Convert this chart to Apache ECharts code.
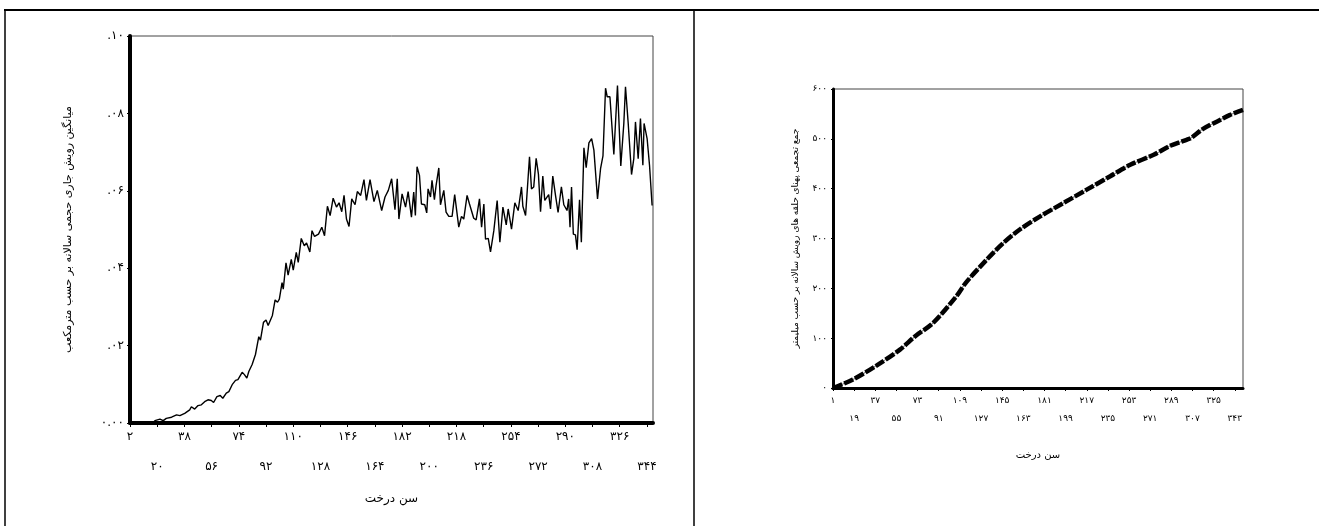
<!DOCTYPE html>
<html>
<head>
<meta charset="utf-8">
<script src="https://cdn.jsdelivr.net/npm/echarts@6/dist/echarts.min.js"></script>
<style>
html,body{margin:0;padding:0;background:#fff;}
#c{width:1319px;height:526px;}
</style>
</head>
<body>
<div id="c"></div>
<script>
// ---- Data ----
// Left chart: mean current annual volume increment (m3) by tree age
const leftSeries = [
[2,0],[10,0],[17,0],
[18.5,0.0006],[21.8,0.001],[24,0.0006],[26,0.0012],[29.5,0.0015],[32.8,0.0021],[35,0.0019],[38.2,0.0025],[41.5,0.0034],[42.6,0.0042],[44.8,0.0036],[47,0.0045],[49.2,0.0047],[51.4,0.0055],[53.6,0.006],[55.8,0.0058],[57.3,0.0053],[59.5,0.0068],[61.7,0.0071],[63.4,0.0064],[65.7,0.0077],[67.4,0.0081],[69.6,0.0099],[71.8,0.011],[73.4,0.0112],[76.2,0.0131],[77.7,0.0125],[79.3,0.0116],[80.6,0.0133],[82.8,0.0151],[85,0.0177],[87.2,0.0223],[88.3,0.0214],
[90.3,0.026],[92,0.0266],[93.4,0.0252],[96.2,0.0278],[98,0.0318],[99.6,0.0312],[100.8,0.032],[102.6,0.0363],[103.4,0.0346],[105.2,0.0414],[106.6,0.0382],[108.7,0.0423],[110,0.0395],[112,0.0441],[113.3,0.0415],[115.3,0.0477],[117.3,0.0458],[118.8,0.0465],[121,0.0442],[122.4,0.0497],[124.1,0.0482],[126.7,0.0488],[128.9,0.0506],[130.7,0.0484],[132.6,0.056],[134.4,0.0536],[136.4,0.0581],[138.6,0.0558],[140.3,0.0569],[142.1,0.0546],[143.6,0.0588],[145.2,0.0527],[146.9,0.0508],[148.7,0.0579],[150.9,0.0564],[152.4,0.0598],[154.6,0.0588],[156.8,0.0629],[158.4,0.0575],[160.8,0.0629],[163.4,0.0572],[165.6,0.0601],[168.5,0.0549],[170.7,0.0584],[172.9,0.0601],[175.1,0.0631],[177.3,0.0551],[178.8,0.0631],[179.9,0.0527],
[182,0.0592],[184.3,0.0558],[186,0.0598],[188.2,0.0532],[189.7,0.0597],[190.8,0.0536],[191.9,0.0662],[193.5,0.064],[194.8,0.0566],[197,0.0564],[198.3,0.0543],[199.2,0.0605],[200.8,0.0584],[201.8,0.0627],[203.4,0.0577],[204.5,0.0614],[206.3,0.0659],[207.4,0.0564],[209.6,0.0601],[211.1,0.0545],[212.9,0.0534],[215.1,0.0534],[216.8,0.059],[219.5,0.0506],[221.3,0.0534],[222.8,0.0527],[225,0.0588],[226.6,0.0566],[229.4,0.0529],[231,0.0525],[233.2,0.0579],[234.6,0.0506],[236.1,0.0566],[237.2,0.0475],[239,0.0477],[240.5,0.0442],[242.7,0.0497],[244.9,0.0575],[246.7,0.0467],[248.7,0.0558],[250.9,0.0512],[252.2,0.0553],[254.4,0.0501],[256.6,0.0569],[258.8,0.0549],
[261,0.061],[261.9,0.056],[263.7,0.0536],[266.3,0.0688],[267.6,0.0605],[269.1,0.061],[270.7,0.0684],[272.2,0.0643],[273.6,0.0546],[275.1,0.0638],[276.4,0.0575],[279,0.059],[280.2,0.0553],[281.7,0.0638],[283.5,0.0588],[285.2,0.0544],[287.4,0.061],[289,0.0564],[291.1,0.0549],[292.2,0.0579],[293.1,0.0506],[294.1,0.061],[295.3,0.0488],[296.7,0.0486],[297.8,0.0448],[299.4,0.0577],[300.6,0.0467],[302.3,0.0711],[303.8,0.066],[305.6,0.0724],[307.4,0.0735],[308.9,0.0705],[311.3,0.0579],[313.3,0.0657],[314.9,0.069],[316.6,0.0865],[317.7,0.0843],[319.5,0.0843],[322.1,0.0694],[324.5,0.0872],[326.7,0.0664],[328.7,0.0774],[329.8,0.0869],[331.6,0.0774],[333.8,0.0642],[335.3,0.0683],[336.4,0.0778],[338.2,0.0683],[339.7,0.0787],[341.3,0.0666],[342.1,0.0774],[344.1,0.0735],[345.7,0.0666],[347.4,0.0562]
];
// Right chart: cumulative ring width (mm) by tree age
const rightSeries = [
[1,0],[18,17],[38,45],[58,77],[71,104],[86,130],[106,184],[114,211],[132,258],[146,291],[160,318],[177,344],[197,371],[217,398],[237,425],[254,448],[274,468],[288,486],[302,498],[306,502],[316,520],[328,535],[339,548],[350,558]
];
// Tick values / labels
const leftXTicks = [2,20,38,56,74,92,110,128,146,164,182,200,218,236,254,272,290,308,326,344];
const leftYLabels = ['۰.۰۰','.۰۲','.۰۴','.۰۶','.۰۸','.۱۰'];
const rightXTicks = [1,19,37,55,73,91,109,127,145,163,181,199,217,235,253,271,289,307,325,343];
const rightYLabels = ['۰','۱۰۰','۲۰۰','۳۰۰','۴۰۰','۵۰۰','۶۰۰'];
const leftXTitle = 'سن درخت';
const leftYTitle = 'میانگین رویش جاری حجمی سالانه بر حسب مترمکعب';
const rightXTitle = 'سن درخت';
const rightYTitle = 'جمع تجمعی پهنای حلقه های رویش سالانه بر حسب میلیمتر';

const FONT = 'DejaVu Sans';
function fa(n){ return String(n).replace(/\d/g, d => '۰۱۲۳۴۵۶۷۸۹'[+d]); }

const chart = echarts.init(document.getElementById('c'), null, {renderer:'canvas'});
chart.setOption({
  animation:false,
  backgroundColor:'#fff',
  textStyle:{fontFamily:FONT},
  grid:[
    {left:130, top:36, width:523, height:387, show:true, borderColor:'#444', borderWidth:1},
    {left:833, top:89, width:410, height:299, show:true, borderColor:'#444', borderWidth:1}
  ],
  xAxis:[
    {gridIndex:0, type:'value', min:2, max:348,
     axisLine:{show:true, onZero:false, lineStyle:{color:'#000', width:4}},
     axisTick:{show:true, length:4, customValues:leftXTicks, lineStyle:{color:'#000', width:1}},
     axisLabel:{customValues:leftXTicks, margin:6, fontSize:12, color:'#000', lineHeight:15, fontFamily:FONT,
       formatter:v => (Math.round((v-2)/18)%2 ? '\n\n' : '') + fa(v)},
     splitLine:{show:false},
     name:leftXTitle, nameLocation:'middle', nameGap:70,
     nameTextStyle:{fontSize:12, color:'#000', fontFamily:FONT}},
    {gridIndex:1, type:'value', min:1, max:350,
     axisLine:{show:true, onZero:false, lineStyle:{color:'#000', width:3}},
     axisTick:{show:true, length:3, customValues:rightXTicks, lineStyle:{color:'#000', width:1}},
     axisLabel:{customValues:rightXTicks, margin:4, fontSize:9, color:'#000', lineHeight:18, fontFamily:FONT,
       formatter:v => (Math.round((v-1)/18)%2 ? '\n' : '') + fa(v)},
     splitLine:{show:false},
     name:rightXTitle, nameLocation:'middle', nameGap:62,
     nameTextStyle:{fontSize:10, color:'#000', fontFamily:FONT}},
  ],
  yAxis:[
    {gridIndex:0, type:'value', min:0, max:0.1, interval:0.02,
     axisLine:{show:true, lineStyle:{color:'#000', width:4}},
     axisTick:{show:true, length:3, lineStyle:{color:'#000', width:1}},
     axisLabel:{margin:6, fontSize:12, color:'#000', fontFamily:FONT,
       formatter:v => leftYLabels[Math.round(v/0.02)]},
     splitLine:{show:false},
     name:leftYTitle, nameLocation:'middle', nameGap:56,
     nameTextStyle:{fontSize:11, color:'#000', fontFamily:FONT}},
    {gridIndex:1, type:'value', min:0, max:600, interval:100,
     axisLine:{show:true, lineStyle:{color:'#000', width:3}},
     axisTick:{show:true, length:2, lineStyle:{color:'#000', width:1}},
     axisLabel:{margin:6, fontSize:9, color:'#000', fontFamily:FONT,
       formatter:v => rightYLabels[Math.round(v/100)]},
     splitLine:{show:false},
     name:rightYTitle, nameLocation:'middle', nameGap:33,
     nameTextStyle:{fontSize:9, color:'#000', fontFamily:FONT}}
  ],
  series:[
    {type:'line', xAxisIndex:0, yAxisIndex:0, data:leftSeries, showSymbol:false, symbol:'none',
     lineStyle:{color:'#000', width:1.4}, z:3},
    {type:'line', xAxisIndex:1, yAxisIndex:1, data:rightSeries, showSymbol:false, symbol:'none', smooth:0.3,
     lineStyle:{color:'#888', width:1.2}, z:2},
    {type:'line', xAxisIndex:1, yAxisIndex:1, data:rightSeries, showSymbol:false, symbol:'none', smooth:0.3,
     lineStyle:{color:'#000', width:4.5, type:[10,2]}, z:3}
  ],
  graphic:[
    {type:'line', shape:{x1:4, y1:10, x2:1319, y2:10}, style:{stroke:'#000', lineWidth:2}, silent:true},
    {type:'line', shape:{x1:5, y1:10, x2:5, y2:526}, style:{stroke:'#000', lineWidth:1.5}, silent:true},
    {type:'line', shape:{x1:694, y1:10, x2:694, y2:526}, style:{stroke:'#000', lineWidth:1.5}, silent:true}
  ]
});
</script>
</body>
</html>
